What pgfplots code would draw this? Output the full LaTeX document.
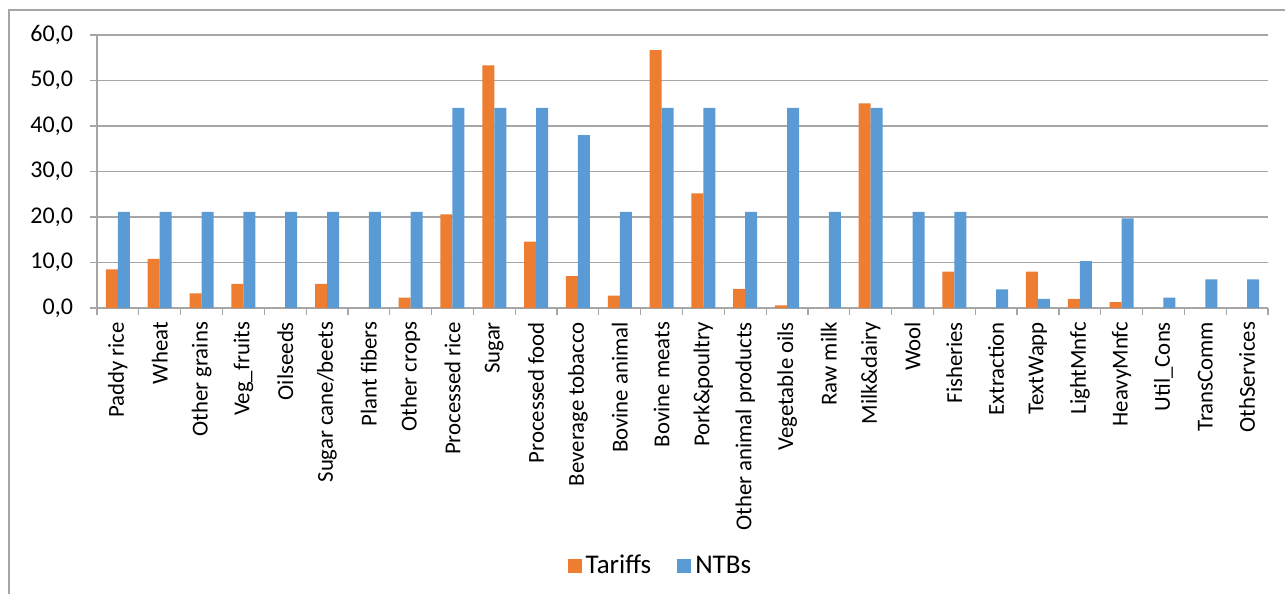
\documentclass[border=0pt]{standalone}
\usepackage{pgfplots}
\pgfplotsset{compat=1.18}
\usepackage{fontspec}
\setmainfont{Carlito}
\definecolor{tariff}{HTML}{ED7D31}
\definecolor{ntb}{HTML}{5B9BD5}
\definecolor{gridgray}{HTML}{A6A6A6}
\begin{document}
\begin{tikzpicture}
\begin{axis}[
  scale only axis,
  width=585.5pt, height=136.5pt,
  ybar=0pt, bar width=6pt,
  xmin=-0.5, xmax=27.5,
  ymin=0, ymax=60,
  ytick={0,10,...,60},
  xtick={0,...,27},
  minor xtick={-0.5,0.5,...,27.5},
  xticklabels={Paddy rice,Wheat,Other grains,Veg\_fruits,Oilseeds,Sugar cane/beets,Plant fibers,Other crops,Processed rice,Sugar,Processed food,Beverage tobacco,Bovine animal,Bovine meats,Pork\&poultry,Other animal products,Vegetable oils,Raw milk,Milk\&dairy,Wool,Fisheries,Extraction,TextWapp,LightMnfc,HeavyMnfc,Util\_Cons,TransComm,OthServices},
  x tick label style={rotate=90, anchor=east, font=\fontsize{11.4}{13}\selectfont},
  y tick label style={font=\fontsize{12}{14}\selectfont, xshift=-5pt,
    /pgf/number format/fixed, /pgf/number format/fixed zerofill,
    /pgf/number format/precision=1, /pgf/number format/use comma,
    /pgf/number format/assume math mode=true},
  major x tick style={draw=none},
  minor x tick style={gridgray, line width=0.6pt},
  minor tick length=3.5pt,
  major y tick style={gridgray, line width=0.6pt},
  major tick length=3.5pt,
  tick align=outside,
  ymajorgrids,
  grid style={gridgray, line width=0.6pt},
  axis x line*=bottom, axis y line*=left,
  axis line style={gridgray, line width=0.6pt},
  x axis line style={-}, y axis line style={-},
  legend style={at={(0.482,-0.945)}, anchor=center, legend columns=2, draw=none, font=\fontsize{13.5}{15}\selectfont, /tikz/every even column/.append style={column sep=11pt}},
  legend image code/.code={\fill[#1] (0pt,-3.5pt) rectangle (7pt,3.5pt);},
]
\addplot[fill=tariff, draw=none] coordinates {
(0,8.5) (1,10.8) (2,3.2) (3,5.3) (4,0) (5,5.3) (6,0) (7,2.3) (8,20.6) (9,53.3)
(10,14.6) (11,7.0) (12,2.7) (13,56.7) (14,25.2) (15,4.2) (16,0.6) (17,0) (18,45.0) (19,0)
(20,8.0) (21,0) (22,8.0) (23,2.0) (24,1.3) (25,0) (26,0) (27,0)
};
\addplot[fill=ntb, draw=none] coordinates {
(0,21.1) (1,21.1) (2,21.1) (3,21.1) (4,21.1) (5,21.1) (6,21.1) (7,21.1) (8,44.0) (9,44.0)
(10,44.0) (11,38.0) (12,21.1) (13,44.0) (14,44.0) (15,21.1) (16,44.0) (17,21.1) (18,44.0) (19,21.1)
(20,21.1) (21,4.1) (22,2.0) (23,10.3) (24,19.7) (25,2.3) (26,6.3) (27,6.3)
};
\legend{Tariffs,NTBs}
\end{axis}
\pgfresetboundingbox
\path[use as bounding box] (-48.5pt,-143pt) rectangle (594pt,154pt);
\draw[gridgray, line width=0.6pt] (-44pt,-143pt) -- (-44pt,149pt) -- (594pt,149pt);
\end{tikzpicture}
\end{document}
